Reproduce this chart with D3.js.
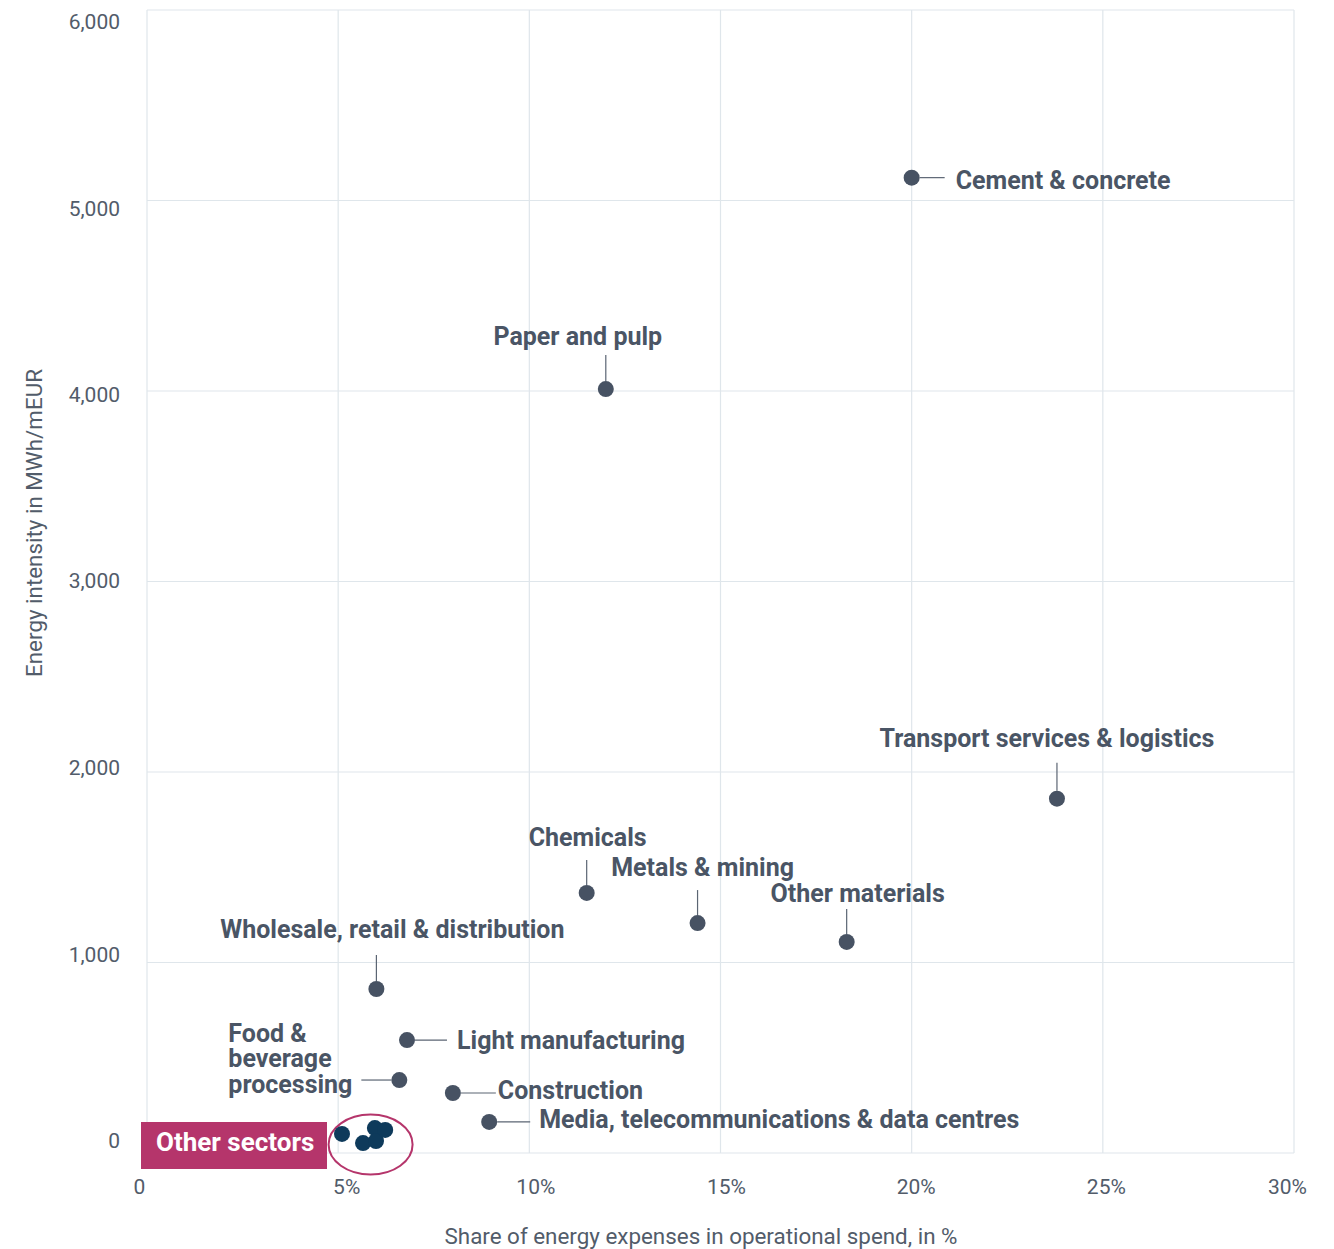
<!DOCTYPE html>
<html>
<head>
<meta charset="utf-8">
<script src="https://cdn.jsdelivr.net/npm/d3@7"></script>
<style>
  html, body { margin: 0; padding: 0; background: #ffffff; }
  svg { display: block; font-family: Roboto, "Noto Sans", sans-serif; }
</style>
</head>
<body>
<svg id="chart" width="1334" height="1249"></svg>
<script>
// Sector values: share of energy expenses in operational spend (%) and energy intensity (MWh/mEUR)
const sectors = [
  "Cement & concrete",
  "Paper and pulp",
  "Transport services & logistics",
  "Chemicals",
  "Metals & mining",
  "Other materials",
  "Wholesale, retail & distribution",
  "Light manufacturing",
  "Food & beverage processing",
  "Construction",
  "Media, telecommunications & data centres"
];
const shareValues     = [20.0, 12.0, 23.8, 11.5, 14.4, 18.3, 6.0, 6.8, 6.6, 8.0, 8.95];
const intensityValues = [5120, 4010, 1860, 1365, 1207, 1108, 861, 593, 383, 315, 163];

// Smaller sectors grouped as "Other sectors"
const otherShare     = [5.1, 5.65, 5.96, 5.99, 6.23];
const otherIntensity = [100, 52, 131, 63, 121];

const xTicks = [0, 5, 10, 15, 20, 25, 30];
const yTicks = [0, 1000, 2000, 3000, 4000, 5000, 6000];

const xTitle = "Share of energy expenses in operational spend, in %";
const yTitle = "Energy intensity in MWh/mEUR";
const otherLabel = "Other sectors";

// Annotation layout per sector: where the leader line and label sit relative to the dot
const labelLayout = [
  { side: "right", l0: 8, l1: 33, tx: 44, ty: 3 },
  { side: "top",   l0: 8, l1: 34, tx: -28, ty: -53, anchor: "middle" },
  { side: "top",   l0: 8, l1: 36, tx: -10, ty: -60, anchor: "middle" },
  { side: "top",   l0: 8, l1: 33, tx: 1,   ty: -56, anchor: "middle" },
  { side: "top",   l0: 8, l1: 33, tx: 5,   ty: -56, anchor: "middle" },
  { side: "top",   l0: 8, l1: 33, tx: 11,  ty: -49, anchor: "middle" },
  { side: "top",   l0: 8, l1: 34, tx: 16,  ty: -60, anchor: "middle" },
  { side: "right", l0: 8, l1: 40, tx: 50,  ty: 0 },
  { side: "left",  l0: 8, l1: 38, tx: -171, ty: -47, lines: ["Food &", "beverage", "processing"], lh: 25.5 },
  { side: "right", l0: 8, l1: 43, tx: 45,  ty: -3 },
  { side: "right", l0: 8, l1: 41, tx: 50,  ty: -3 }
];

const svg = d3.select("#chart");
const plotLeft = 147, plotRight = 1294, plotTop = 10, plotBottom = 1153;

const x = d3.scaleLinear().domain([0, 30]).range([plotLeft, plotRight]);
const y = d3.scaleLinear().domain([0, 6000]).range([plotBottom, plotTop]);

const gridColor = "#dfe6eb";
const tickColor = "#525c6a";
const labelColor = "#4a5565";
const dotColor = "#475263";

// Gridlines
const grid = svg.append("g");
grid.selectAll("line.v").data(xTicks).join("line")
  .attr("class", "v")
  .attr("x1", d => x(d)).attr("x2", d => x(d))
  .attr("y1", plotTop).attr("y2", plotBottom)
  .attr("stroke", gridColor).attr("stroke-width", 1.2);
grid.selectAll("line.h").data(yTicks).join("line")
  .attr("class", "h")
  .attr("x1", plotLeft).attr("x2", plotRight)
  .attr("y1", d => y(d)).attr("y2", d => y(d))
  .attr("stroke", gridColor).attr("stroke-width", 1.2);

// Y axis tick labels
const yNudge = { 0: -13, 1000: -8.5, 2000: -5, 3000: -1.5, 4000: 3.5, 5000: 8, 6000: 11 };
const yAxis = d3.axisLeft(y).tickValues(yTicks).tickSize(0).tickPadding(27)
  .tickFormat(d => d === 0 ? "0" : d3.format(",")(d));
const gy = svg.append("g").attr("transform", `translate(${plotLeft},0)`).call(yAxis);
gy.select(".domain").remove();
gy.selectAll("text")
  .attr("fill", tickColor).attr("font-size", 21)
  .attr("dy", d => yNudge[d] + 7.3);

// X axis tick labels
const xNudge = { 0: -8, 5: 8, 10: 6, 15: 5.5, 20: 4, 25: 3, 30: -7 };
const xAxis = d3.axisBottom(x).tickValues(xTicks).tickSize(0).tickPadding(26)
  .tickFormat(d => d === 0 ? "0" : d + "%");
const gx = svg.append("g").attr("transform", `translate(0,${plotBottom})`).call(xAxis);
gx.select(".domain").remove();
gx.selectAll("text")
  .attr("fill", tickColor).attr("font-size", 21)
  .attr("dx", d => xNudge[d]);
svg.selectAll(".tick text").attr("font-family", "Roboto, sans-serif");

// Axis titles
svg.append("text")
  .attr("x", 701).attr("y", 1244)
  .attr("text-anchor", "middle").attr("fill", tickColor).attr("font-size", 22.4)
  .text(xTitle);
svg.append("text")
  .attr("transform", `translate(42,523) rotate(-90)`)
  .attr("text-anchor", "middle").attr("fill", tickColor).attr("font-size", 22.4)
  .text(yTitle);

// Other sectors: tag, outline ring and dots
const oxs = otherShare.map(d => x(d)), oys = otherIntensity.map(d => y(d));
const cx = (d3.min(oxs) + d3.max(oxs)) / 2, cy = (d3.min(oys) + d3.max(oys)) / 2;
svg.append("rect")
  .attr("x", 141).attr("y", 1122).attr("width", 186).attr("height", 47)
  .attr("fill", "#b5356b");
svg.append("text")
  .attr("x", 156).attr("y", 1151).attr("fill", "#ffffff")
  .attr("font-size", 26).attr("font-weight", 700)
  .text(otherLabel);
svg.append("ellipse")
  .attr("cx", cx + 7).attr("cy", cy + 9).attr("rx", 42).attr("ry", 30)
  .attr("fill", "none").attr("stroke", "#b5356b").attr("stroke-width", 2);
svg.append("g").selectAll("circle").data(otherShare).join("circle")
  .attr("cx", d => x(d)).attr("cy", (d, i) => y(otherIntensity[i]))
  .attr("r", 8).attr("fill", "#0e3a5b");

// Named sectors: leader lines, dots and labels
const pts = sectors.map((name, i) => ({ name, px: x(shareValues[i]), py: y(intensityValues[i]), lay: labelLayout[i] }));
const ann = svg.append("g");
pts.forEach(p => {
  const L = p.lay;
  let x1, y1, x2, y2;
  if (L.side === "right") { x1 = p.px + L.l0; x2 = p.px + L.l1; y1 = y2 = p.py; }
  else if (L.side === "left") { x1 = p.px - L.l0; x2 = p.px - L.l1; y1 = y2 = p.py; }
  else { x1 = x2 = p.px; y1 = p.py - L.l0; y2 = p.py - L.l1; }
  ann.append("line").attr("x1", x1).attr("y1", y1).attr("x2", x2).attr("y2", y2)
    .attr("stroke", "#5b6573").attr("stroke-width", 1.2);
  ann.append("circle").attr("cx", p.px).attr("cy", p.py).attr("r", 8).attr("fill", dotColor);
  const t = ann.append("text")
    .attr("text-anchor", L.anchor || "start")
    .attr("fill", labelColor).attr("font-size", 25).attr("font-weight", 700);
  const lines = L.lines || [p.name];
  const lh = L.lh || 0;
  lines.forEach((s, k) => t.append("tspan")
    .attr("x", p.px + L.tx).attr("y", p.py + L.ty + k * lh)
    .attr("dy", "0.35em").text(s));
});
</script>
</body>
</html>
